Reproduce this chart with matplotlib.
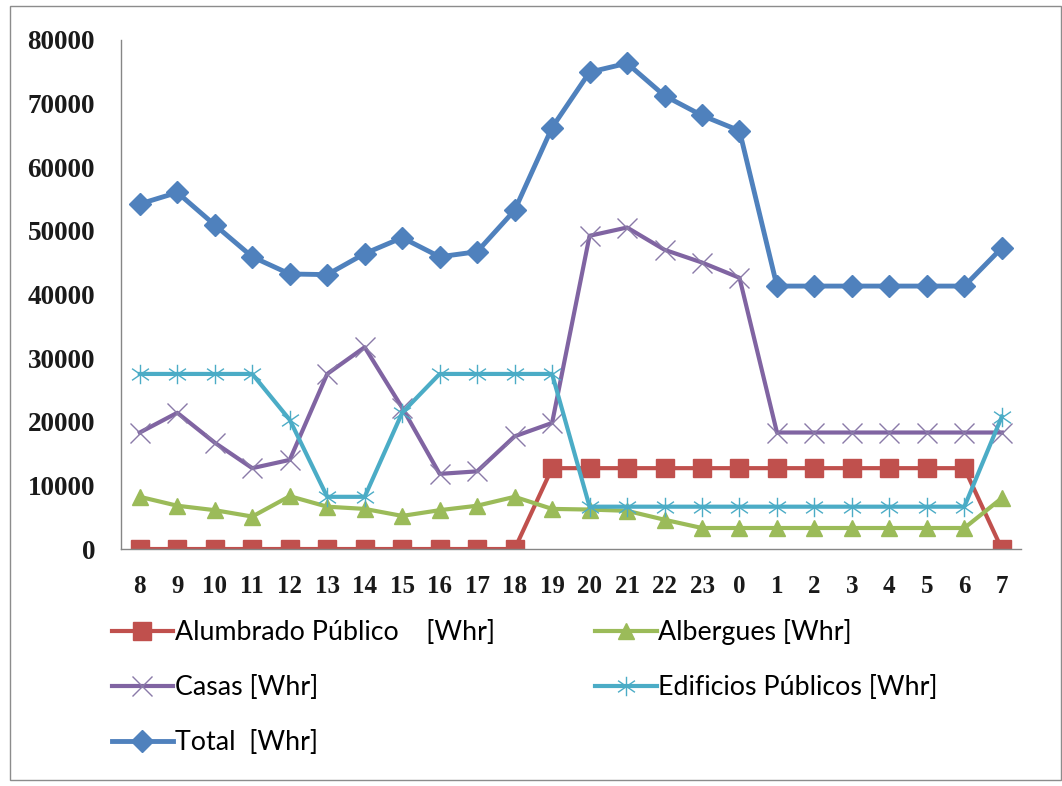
import numpy as np
import matplotlib
matplotlib.use("Agg")
import matplotlib.pyplot as plt
from matplotlib.path import Path
from matplotlib.patches import Rectangle

# horas del dia (eje x)
horas = ['8', '9', '10', '11', '12', '13', '14', '15', '16', '17', '18', '19',
         '20', '21', '22', '23', '0', '1', '2', '3', '4', '5', '6', '7']

alumbrado = [0, 0, 0, 0, 0, 0, 0, 0, 0, 0, 0, 12700,
             12700, 12700, 12700, 12700, 12700, 12700, 12700, 12700, 12700, 12700, 12700, 0]
albergues = [8200, 6800, 6100, 5100, 8300, 6650, 6300, 5200, 6100, 6800, 8200, 6300,
             6200, 6000, 4600, 3300, 3300, 3300, 3300, 3300, 3300, 3300, 3300, 8000]
casas = [18300, 21400, 16700, 12700, 14000, 27500, 31700, 22200, 11800, 12200, 17700, 19800,
         49200, 50500, 47000, 45000, 42600, 18300, 18300, 18300, 18300, 18300, 18300, 18300]
edificios = [27500, 27500, 27500, 27500, 20300, 8200, 8200, 21400, 27500, 27500, 27500, 27500,
             6650, 6650, 6650, 6650, 6650, 6650, 6650, 6650, 6650, 6650, 6650, 20800]
total = [54200, 56000, 50900, 45900, 43200, 43100, 46400, 48900, 45900, 46700, 53200, 66200,
         74900, 76300, 71200, 68100, 65700, 41300, 41300, 41300, 41300, 41300, 41300, 47300]

x = np.arange(len(horas))

# marcador tipo asterisco de Excel
asterisco = Path([(0, -1), (0, 1), (-0.87, -0.6), (0.87, 0.6), (-0.87, 0.6), (0.87, -0.6)],
                 [Path.MOVETO, Path.LINETO, Path.MOVETO, Path.LINETO, Path.MOVETO, Path.LINETO])

fig = plt.figure(figsize=(10.62, 7.86), dpi=100)
ax = fig.add_axes([0.114, 0.3015, 0.847, 0.648])

l_alu, = ax.plot(x, alumbrado, color='#C0504D', lw=3, marker='s', ms=12.5,
                 label='Alumbrado Público    [Whr]')
l_alb, = ax.plot(x, albergues, color='#9BBB59', lw=3, marker='^', ms=11.5,
                 label='Albergues [Whr]')
l_cas, = ax.plot(x, casas, color='#8064A2', lw=3, marker='x', ms=14, mew=1,
                 mec='#8a7aa8', label='Casas [Whr]')
l_edi, = ax.plot(x, edificios, color='#4BACC6', lw=3, marker=asterisco, ms=14, mew=1,
                 label='Edificios Públicos [Whr]')
l_tot, = ax.plot(x, total, color='#4F81BD', lw=3.5, marker='D', ms=11.5,
                 label='Total  [Whr]')

ax.set_xlim(-0.5, len(horas) - 0.5)
ax.set_ylim(0, 80000)
ax.set_yticks(np.arange(0, 80001, 10000))
ax.set_xticks(x)
ax.set_xticklabels(horas)

for s in ['top', 'right']:
    ax.spines[s].set_visible(False)
for s in ['left', 'bottom']:
    ax.spines[s].set_color('#868686')
    ax.spines[s].set_linewidth(1)
ax.tick_params(length=0)
ax.tick_params(axis='y', pad=18.7)
ax.tick_params(axis='x', pad=19)
for lab in ax.get_yticklabels():
    lab.set_fontfamily('Liberation Serif')
    lab.set_fontweight('bold')
    lab.set_fontsize(19.5)
    lab.set_color('#1a1a1a')
for lab in ax.get_xticklabels():
    lab.set_fontfamily('Liberation Serif')
    lab.set_fontweight('bold')
    lab.set_fontsize(18)
    lab.set_color('#1a1a1a')

# leyenda en dos columnas (orden por columnas)
hs = [l_alu, l_cas, l_tot, l_alb, l_edi]
fig.legend(hs, [h.get_label() for h in hs], ncol=2, frameon=False,
           loc='upper left', bbox_to_anchor=(0.0925, 0.229),
           prop={'family': ['Lato', 'DejaVu Sans'], 'size': 19.3},
           handlelength=2.3, handletextpad=0.05, labelspacing=1.12,
           columnspacing=3.75, borderpad=0)

# borde del grafico
fig.patches.append(Rectangle((0.009, 0.007), 0.99, 0.985, transform=fig.transFigure,
                             fill=False, edgecolor='#8c8c8c', lw=1))

fig.savefig('out.png', dpi=100)
